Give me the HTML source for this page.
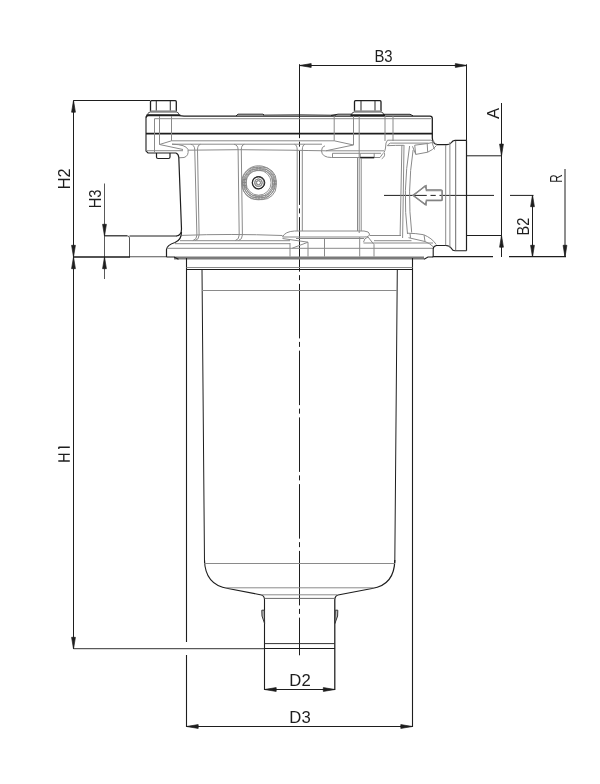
<!DOCTYPE html>
<html><head><meta charset="utf-8"><style>
html,body{margin:0;padding:0;background:#fff;}
svg{display:block;font-family:"Liberation Sans",sans-serif;will-change:transform;-webkit-font-smoothing:antialiased;}
text{fill:#1e1e1e;}
</style></head><body>
<svg width="600" height="784" viewBox="0 0 600 784">
<line x1="299.5" y1="65.5" x2="467" y2="65.5" stroke="#1e1e1e" stroke-width="1.0" />
<polygon points="299.5,65.5 311.2,63.6 311.2,67.4" fill="#1e1e1e" stroke="#1e1e1e" stroke-width="0.7" stroke-linejoin="round"/>
<polygon points="467,65.5 455.3,63.6 455.3,67.4" fill="#1e1e1e" stroke="#1e1e1e" stroke-width="0.7" stroke-linejoin="round"/>
<line x1="466.5" y1="64.3" x2="466.5" y2="140.5" stroke="#1e1e1e" stroke-width="1.0" />
<g transform="translate(383.5,56) rotate(0) scale(0.89,1)"><text x="0" y="6" font-size="16.7" text-anchor="middle">B3</text></g>
<line x1="299.5" y1="64.2" x2="299.5" y2="138.15" stroke="#1e1e1e" stroke-width="1.0" />
<line x1="299.5" y1="138.15" x2="299.5" y2="655.3" stroke="#1e1e1e" stroke-width="1.0" stroke-dasharray="54.5 3.5 5 3.75" stroke-dashoffset="54.5"/>
<line x1="73.5" y1="100.5" x2="73.5" y2="257" stroke="#1e1e1e" stroke-width="1.0" />
<polygon points="73.5,100.5 71.6,112.2 75.4,112.2" fill="#1e1e1e" stroke="#1e1e1e" stroke-width="0.7" stroke-linejoin="round"/>
<polygon points="73.5,257 71.6,245.3 75.4,245.3" fill="#1e1e1e" stroke="#1e1e1e" stroke-width="0.7" stroke-linejoin="round"/>
<line x1="73.5" y1="100.5" x2="150" y2="100.5" stroke="#1e1e1e" stroke-width="1.0" />
<g transform="translate(64,178.9) rotate(-90) scale(0.975,1)"><text x="0" y="6" font-size="16.7" text-anchor="middle">H2</text></g>
<line x1="104.5" y1="183.5" x2="104.5" y2="279" stroke="#5a5a5a" stroke-width="1.0" />
<polygon points="104.5,236 102.6,224.3 106.4,224.3" fill="#1e1e1e" stroke="#1e1e1e" stroke-width="0.7" stroke-linejoin="round"/>
<polygon points="104.5,257 102.6,268.7 106.4,268.7" fill="#1e1e1e" stroke="#1e1e1e" stroke-width="0.7" stroke-linejoin="round"/>
<g transform="translate(94.7,198.9) rotate(-90) scale(0.88,1)"><text x="0" y="6" font-size="16.7" text-anchor="middle">H3</text></g>
<line x1="104.5" y1="235.8" x2="127.5" y2="235.8" stroke="#1e1e1e" stroke-width="1.2" />
<path d="M127.5,236 Q129.5,236 129.5,238 L129.5,257" stroke="#555" stroke-width="1.0" fill="none" />
<line x1="129.5" y1="236" x2="177" y2="236" stroke="#1e1e1e" stroke-width="1.0" />
<line x1="73.5" y1="257" x2="73.5" y2="649" stroke="#1e1e1e" stroke-width="1.0" />
<polygon points="73.5,257 71.6,268.7 75.4,268.7" fill="#1e1e1e" stroke="#1e1e1e" stroke-width="0.7" stroke-linejoin="round"/>
<polygon points="73.5,649 71.6,637.3 75.4,637.3" fill="#1e1e1e" stroke="#1e1e1e" stroke-width="0.7" stroke-linejoin="round"/>
<path d="M58.3,454.3 L69.8,454.3 M58.3,461 L69.8,461 M63.8,454.3 L63.8,461 M58.6,447.2 L69.8,447.2 M58.6,447.2 L58.9,449" stroke="#1e1e1e" stroke-width="1.35" fill="none" />
<line x1="73.5" y1="648.7" x2="264.5" y2="648.7" stroke="#333" stroke-width="1.0" />
<line x1="73.5" y1="257" x2="130" y2="257" stroke="#1a1a1a" stroke-width="1.6" />
<line x1="130" y1="256.8" x2="166.5" y2="256.8" stroke="#555" stroke-width="1.1" />
<line x1="432.5" y1="256.6" x2="493" y2="256.6" stroke="#1e1e1e" stroke-width="1.2" />
<line x1="509" y1="256.6" x2="566" y2="256.6" stroke="#1e1e1e" stroke-width="1.2" />
<line x1="264.5" y1="689.5" x2="335" y2="689.5" stroke="#1e1e1e" stroke-width="1.0" />
<polygon points="264.5,689.5 276.2,687.6 276.2,691.4" fill="#1e1e1e" stroke="#1e1e1e" stroke-width="0.7" stroke-linejoin="round"/>
<polygon points="335,689.5 323.3,687.6 323.3,691.4" fill="#1e1e1e" stroke="#1e1e1e" stroke-width="0.7" stroke-linejoin="round"/>
<g transform="translate(300,680) rotate(0) scale(1.0,1)"><text x="0" y="6" font-size="16.7" text-anchor="middle">D2</text></g>
<line x1="186.5" y1="726.5" x2="412.5" y2="726.5" stroke="#1e1e1e" stroke-width="1.0" />
<polygon points="186.5,726.5 198.2,724.6 198.2,728.4" fill="#1e1e1e" stroke="#1e1e1e" stroke-width="0.7" stroke-linejoin="round"/>
<polygon points="412.5,726.5 400.8,724.6 400.8,728.4" fill="#1e1e1e" stroke="#1e1e1e" stroke-width="0.7" stroke-linejoin="round"/>
<g transform="translate(300,716.6) rotate(0) scale(1.0,1)"><text x="0" y="6" font-size="16.7" text-anchor="middle">D3</text></g>
<line x1="501.5" y1="103" x2="501.5" y2="257" stroke="#1e1e1e" stroke-width="1.0" />
<polygon points="501.5,155.8 499.6,144.10000000000002 503.4,144.10000000000002" fill="#1e1e1e" stroke="#1e1e1e" stroke-width="0.7" stroke-linejoin="round"/>
<polygon points="501.5,235.5 499.6,247.2 503.4,247.2" fill="#1e1e1e" stroke="#1e1e1e" stroke-width="0.7" stroke-linejoin="round"/>
<line x1="467" y1="155.8" x2="501.5" y2="155.8" stroke="#1e1e1e" stroke-width="1.0" />
<line x1="467" y1="235.5" x2="501.5" y2="235.5" stroke="#1e1e1e" stroke-width="1.0" />
<g transform="translate(492.7,113.5) rotate(-90) scale(1.0,1)"><text x="0" y="6" font-size="16.7" text-anchor="middle">A</text></g>
<line x1="532.5" y1="195" x2="532.5" y2="257" stroke="#1e1e1e" stroke-width="1.0" />
<polygon points="532.5,195 530.6,206.7 534.4,206.7" fill="#1e1e1e" stroke="#1e1e1e" stroke-width="0.7" stroke-linejoin="round"/>
<polygon points="532.5,257 530.6,245.3 534.4,245.3" fill="#1e1e1e" stroke="#1e1e1e" stroke-width="0.7" stroke-linejoin="round"/>
<line x1="510" y1="195.4" x2="533.5" y2="195.4" stroke="#1e1e1e" stroke-width="1.0" />
<g transform="translate(523.2,226.5) rotate(-90) scale(0.87,1)"><text x="0" y="6" font-size="16.7" text-anchor="middle">B2</text></g>
<line x1="565" y1="169" x2="565" y2="257" stroke="#1e1e1e" stroke-width="1.0" />
<polygon points="565,257 563.1,245.3 566.9,245.3" fill="#1e1e1e" stroke="#1e1e1e" stroke-width="0.7" stroke-linejoin="round"/>
<g transform="translate(555.7,178.5) rotate(-90) scale(0.7,1)"><text x="0" y="6" font-size="16.7" text-anchor="middle">R</text></g>
<line x1="384" y1="195.4" x2="494" y2="195.4" stroke="#1e1e1e" stroke-width="1.0" stroke-dasharray="54.5 3.75 5.25 3.75" stroke-dashoffset="11.75"/>
<path d="M150.5,111.5 L150.5,101.7 Q150.5,100.7 151.5,100.7 L175.3,100.7 Q176.3,100.7 176.3,101.7 L176.3,111.5" stroke="#1e1e1e" stroke-width="1.3" fill="none" />
<line x1="156.3" y1="101" x2="156.3" y2="111" stroke="#3a3a3a" stroke-width="1.1" />
<line x1="170.3" y1="101" x2="170.3" y2="111" stroke="#3a3a3a" stroke-width="1.1" />
<line x1="150.5" y1="111" x2="176.3" y2="111" stroke="#999" stroke-width="1.4" />
<path d="M147.7,114.5 Q147.7,112.2 150.5,112 L176.3,112 Q178.8,112.2 178.8,114.5" stroke="#555" stroke-width="1.0" fill="none" />
<line x1="146.5" y1="115.2" x2="180.3" y2="115.2" stroke="#1e1e1e" stroke-width="1.7" />
<path d="M354.5,111.5 L354.5,101.7 Q354.5,100.7 355.5,100.7 L380,100.7 Q381,100.7 381,101.7 L381,111.5" stroke="#1e1e1e" stroke-width="1.3" fill="none" />
<line x1="361" y1="101" x2="361" y2="111" stroke="#3a3a3a" stroke-width="1.1" />
<line x1="375" y1="101" x2="375" y2="111" stroke="#3a3a3a" stroke-width="1.1" />
<line x1="354.5" y1="111" x2="381" y2="111" stroke="#999" stroke-width="1.4" />
<path d="M351.7,114.5 Q351.7,112.2 354.5,112 L381,112 Q383.5,112.2 383.5,114.5" stroke="#555" stroke-width="1.0" fill="none" />
<line x1="350.5" y1="115.2" x2="385" y2="115.2" stroke="#1e1e1e" stroke-width="1.7" />
<path d="M146,118 Q146,115.5 148.5,115.5 L179,115.7 L184,116.1 L430,116.1 Q432.3,116.1 432.3,118.5 L432.3,138 Q432.5,143.5 437,144.7 L447,144.7 Q450,144.7 451.5,142.5 Q452.5,140.3 455,140.3 L466.5,140.3" stroke="#1e1e1e" stroke-width="1.3" fill="none" />
<path d="M236,116 L238,114.2 L263,114.2 L264,115" stroke="#1e1e1e" stroke-width="1.0" fill="none" />
<path d="M263,115 Q300,114.2 336,115.2" stroke="#1e1e1e" stroke-width="0.7" fill="none" />
<path d="M331,115.5 L338,114.2 L352,114.2" stroke="#1e1e1e" stroke-width="1.0" fill="none" />
<path d="M383,114.3 L410,114.3 L413,115.8" stroke="#1e1e1e" stroke-width="1.0" fill="none" />
<path d="M146,118 L146,151 L148,153 L176,153" stroke="#1e1e1e" stroke-width="1.1" fill="none" />
<line x1="146" y1="133.6" x2="432.3" y2="133.6" stroke="#1e1e1e" stroke-width="1.6" />
<line x1="154.5" y1="118.7" x2="431" y2="118.7" stroke="#8a8a8a" stroke-width="1.0" />
<line x1="154.5" y1="118.7" x2="154.5" y2="152.5" stroke="#8a8a8a" stroke-width="1.0" />
<line x1="159.5" y1="116" x2="159.5" y2="144.5" stroke="#8a8a8a" stroke-width="1.0" />
<line x1="171.5" y1="116" x2="171.5" y2="140.8" stroke="#8a8a8a" stroke-width="1.0" />
<line x1="334.2" y1="116" x2="334.2" y2="140.8" stroke="#8a8a8a" stroke-width="1.0" />
<line x1="353.5" y1="116" x2="353.5" y2="145" stroke="#8a8a8a" stroke-width="1.0" />
<line x1="359.2" y1="116" x2="359.2" y2="233" stroke="#8a8a8a" stroke-width="1.0" />
<line x1="385" y1="116" x2="385" y2="141" stroke="#8a8a8a" stroke-width="1.0" />
<line x1="393" y1="116" x2="393" y2="141" stroke="#8a8a8a" stroke-width="1.0" />
<line x1="171.5" y1="140.8" x2="334.2" y2="140.8" stroke="#8a8a8a" stroke-width="1.0" />
<line x1="334.2" y1="140.8" x2="353.5" y2="145" stroke="#8a8a8a" stroke-width="1.0" />
<path d="M159.5,144.5 L171.5,140.8" stroke="#8a8a8a" stroke-width="1.0" fill="none" />
<path d="M159.5,144.5 L183,149.5" stroke="#8a8a8a" stroke-width="1.0" fill="none" />
<path d="M146,150.7 L183,150.7" stroke="#8a8a8a" stroke-width="1.0" fill="none" />
<line x1="172" y1="144.2" x2="322" y2="144.2" stroke="#8a8a8a" stroke-width="1.0" />
<path d="M188,150.2 Q240,149.2 290,150.2 Q310,150.6 325.8,150.8" stroke="#8a8a8a" stroke-width="1.0" fill="none" />
<path d="M172,144.2 Q186,144.5 188,149.5 Q189,156 184,157.5 L179,157.8" stroke="#8a8a8a" stroke-width="1.0" fill="none" />
<path d="M325,145.8 Q321.5,146.5 321.5,151 Q322,157.5 331.7,157.5 L360,157.5" stroke="#8a8a8a" stroke-width="1.0" fill="none" />
<path d="M325.8,150.8 L353.3,145" stroke="#8a8a8a" stroke-width="1.0" fill="none" />
<line x1="325.8" y1="150.8" x2="384" y2="150.8" stroke="#8a8a8a" stroke-width="1.0" />
<line x1="332.5" y1="153.3" x2="360" y2="153.3" stroke="#8a8a8a" stroke-width="1.0" />
<line x1="332.5" y1="153.3" x2="332.5" y2="157.5" stroke="#8a8a8a" stroke-width="1.0" />
<line x1="374" y1="153.3" x2="381" y2="153.3" stroke="#8a8a8a" stroke-width="1.0" />
<path d="M374,157.5 L380,157.5 L383,153.3" stroke="#8a8a8a" stroke-width="1.0" fill="none" />
<path d="M381.7,158.8 Q386,156 384,152.4" stroke="#8a8a8a" stroke-width="1.0" fill="none" />
<line x1="387.5" y1="140.2" x2="430.7" y2="140.2" stroke="#8a8a8a" stroke-width="1.0" />
<path d="M430.7,140.2 Q434,141 436.5,144.8" stroke="#8a8a8a" stroke-width="1.0" fill="none" />
<path d="M387.5,140.2 Q385.5,142 385.5,148 Q385,151 384,152.4" stroke="#8a8a8a" stroke-width="1.0" fill="none" />
<line x1="390.4" y1="143.1" x2="428.3" y2="143.1" stroke="#8a8a8a" stroke-width="1.0" />
<path d="M390.4,143.1 Q388,144 387.5,146" stroke="#8a8a8a" stroke-width="1.0" fill="none" />
<path d="M387.6,145.7 Q395,145.3 403.8,145.3" stroke="#8a8a8a" stroke-width="1.0" fill="none" />
<path d="M412.5,146.3 L415.75,154.4 L427.7,152.2 Q433,150 436.5,145.5" stroke="#8a8a8a" stroke-width="1.0" fill="none" />
<path d="M414.7,145.2 L427.7,143.5 Q432,142.5 434.5,142" stroke="#8a8a8a" stroke-width="1.0" fill="none" />
<line x1="414.7" y1="145.2" x2="415.75" y2="154.4" stroke="#8a8a8a" stroke-width="1.0" />
<line x1="427.2" y1="143.5" x2="427.7" y2="152.2" stroke="#8a8a8a" stroke-width="1.0" />
<line x1="432" y1="142.5" x2="434.5" y2="149.5" stroke="#8a8a8a" stroke-width="1.0" />
<path d="M156.5,153 L156.5,157 Q156.5,158.5 158,158.5 L168.5,158.5 Q170,158.5 170,157 L170,153" stroke="#1e1e1e" stroke-width="1.2" fill="none" />
<path d="M360.2,153.3 L360.2,157.5 L374.2,157.5 L374.2,153.3" stroke="#8a8a8a" stroke-width="1.0" fill="none" />
<line x1="360.2" y1="157.6" x2="374.2" y2="157.6" stroke="#1e1e1e" stroke-width="1.6" />
<line x1="360.2" y1="153.3" x2="374.2" y2="153.3" stroke="#8a8a8a" stroke-width="1.0" />
<path d="M176,153 Q178.5,154 178.8,157.5 L181.5,229 Q181.5,235.5 176.5,236" stroke="#1e1e1e" stroke-width="1.2" fill="none" />
<path d="M181.5,232 Q181.5,240 175,242.5 Q167,245 166.5,249.5 L166.5,257" stroke="#1e1e1e" stroke-width="1.2" fill="none" />
<path d="M190.75,144.3 Q194.75,145 194.75,150 L196.9,235 Q196.9,239.5 192.9,240.6" stroke="#8a8a8a" stroke-width="1.0" fill="none" />
<path d="M200.5,144.3 Q197.5,145 197.5,150 L199.1,235 Q199.1,239.5 195.1,240.6" stroke="#8a8a8a" stroke-width="1.0" fill="none" />
<path d="M234.1,144.3 Q238.1,145 238.1,150 L239.2,235 Q239.2,239.5 235.2,240.6" stroke="#8a8a8a" stroke-width="1.0" fill="none" />
<path d="M244.3,144.3 Q241.3,145 241.3,150 L242.4,235 Q242.4,239.5 238.4,240.6" stroke="#8a8a8a" stroke-width="1.0" fill="none" />
<line x1="357.5" y1="158" x2="357.5" y2="231" stroke="#8a8a8a" stroke-width="1.0" />
<line x1="361.2" y1="158" x2="361.2" y2="231" stroke="#8a8a8a" stroke-width="1.0" />
<path d="M294.5,144.3 Q297.2,145 297.2,150 L297.2,231" stroke="#8a8a8a" stroke-width="1.0" fill="none" />
<path d="M305,144.3 Q302.3,145 302.3,150 L302.3,231" stroke="#8a8a8a" stroke-width="1.0" fill="none" />
<line x1="401.9" y1="145" x2="400.1" y2="236" stroke="#8a8a8a" stroke-width="1.0" />
<line x1="404" y1="145" x2="402.6" y2="238" stroke="#8a8a8a" stroke-width="1.0" />
<path d="M409.6,146 Q402.25,191 407.5,234" stroke="#8a8a8a" stroke-width="1.0" fill="none" />
<path d="M413.1,150 Q406.8,191 411.7,232.6" stroke="#8a8a8a" stroke-width="1.0" fill="none" />
<path d="M182,235.4 Q230,233.5 282.5,235.5" stroke="#8a8a8a" stroke-width="1.0" fill="none" />
<path d="M294.5,231 Q285,231.5 282.5,237" stroke="#8a8a8a" stroke-width="1.0" fill="none" />
<line x1="294.5" y1="231" x2="364" y2="231" stroke="#8a8a8a" stroke-width="1.0" />
<path d="M364,231 Q369.5,231.5 369.5,234 Q369.5,237 364,237" stroke="#8a8a8a" stroke-width="1.0" fill="none" />
<line x1="282.5" y1="237" x2="364" y2="237" stroke="#8a8a8a" stroke-width="1.1" />
<line x1="296" y1="238.5" x2="364" y2="238.5" stroke="#8a8a8a" stroke-width="1.0" />
<line x1="180" y1="240.7" x2="290" y2="240.7" stroke="#8a8a8a" stroke-width="1.0" />
<line x1="175" y1="243.7" x2="290" y2="243.7" stroke="#8a8a8a" stroke-width="1.0" />
<line x1="167" y1="248.3" x2="433" y2="248.3" stroke="#8a8a8a" stroke-width="1.0" />
<path d="M282.5,238.5 L308,242.2 L292.2,248.2" stroke="#8a8a8a" stroke-width="1.0" fill="none" />
<line x1="290" y1="243" x2="290" y2="256.5" stroke="#8a8a8a" stroke-width="1.0" />
<line x1="308" y1="242.2" x2="308" y2="256.5" stroke="#8a8a8a" stroke-width="1.0" />
<line x1="324.5" y1="238.5" x2="324.5" y2="256.5" stroke="#8a8a8a" stroke-width="1.0" />
<line x1="359.7" y1="237" x2="359.7" y2="256.5" stroke="#8a8a8a" stroke-width="1.0" />
<line x1="374" y1="244.5" x2="374" y2="256.5" stroke="#8a8a8a" stroke-width="1.0" />
<path d="M363.5,242.2 Q364,238 368,237 L374,244.5" stroke="#8a8a8a" stroke-width="1.0" fill="none" />
<line x1="369.5" y1="235.5" x2="401" y2="235.5" stroke="#8a8a8a" stroke-width="1.0" />
<line x1="374" y1="240.7" x2="411.5" y2="240.7" stroke="#8a8a8a" stroke-width="1.0" />
<line x1="363.5" y1="243" x2="433" y2="243" stroke="#8a8a8a" stroke-width="1.0" />
<path d="M407.7,233.2 Q416,233.3 423.5,234.7 Q432,238 436.2,244.5" stroke="#8a8a8a" stroke-width="1.0" fill="none" />
<path d="M408.5,237.7 L425,241.5 Q430,243.5 433.2,246.7" stroke="#8a8a8a" stroke-width="1.0" fill="none" />
<line x1="410" y1="233.3" x2="410.5" y2="237.9" stroke="#8a8a8a" stroke-width="1.0" />
<line x1="424" y1="234.8" x2="425" y2="241.5" stroke="#8a8a8a" stroke-width="1.0" />
<path d="M433.2,256.6 L433.2,249 Q433.3,246 436.5,245.5 L446,245.5 Q450,245.8 451.5,248.5 Q452.5,250.7 455,250.7 L466.5,250.7" stroke="#1e1e1e" stroke-width="1.1" fill="none" />
<line x1="455.7" y1="140.8" x2="455.7" y2="250.2" stroke="#6a6a6a" stroke-width="1.0" />
<line x1="466.5" y1="140.3" x2="466.5" y2="250.7" stroke="#1e1e1e" stroke-width="1.2" />
<line x1="445.7" y1="145" x2="445.7" y2="245.3" stroke="#8a8a8a" stroke-width="1.0" />
<line x1="449.9" y1="142" x2="449.9" y2="248" stroke="#8a8a8a" stroke-width="1.0" />
<rect x="174" y="256.5" width="250" height="3" fill="#7a7a7a"/>
<path d="M166.5,257 L174,257 L178.5,259.3" stroke="#1e1e1e" stroke-width="1.1" fill="none" />
<path d="M424,259.3 L428,257 L433.2,257" stroke="#1e1e1e" stroke-width="1.1" fill="none" />
<rect x="242.5" y="167" width="33.8" height="32.6" rx="14" fill="none" stroke="#777" stroke-width="0.85"/>
<rect x="244.3" y="168.8" width="30.199999999999996" height="29.0" rx="12.2" fill="none" stroke="#777" stroke-width="0.85"/>
<rect x="246.1" y="170.6" width="26.599999999999998" height="25.400000000000002" rx="10.4" fill="none" stroke="#777" stroke-width="0.85"/>
<circle cx="258.3" cy="182.8" r="6.0" fill="none" stroke="#555" stroke-width="1.3"/>
<circle cx="258.3" cy="182.8" r="3.8" fill="none" stroke="#777" stroke-width="0.85"/>
<circle cx="258.3" cy="182.8" r="2.2" fill="none" stroke="#777" stroke-width="0.85"/>
<line x1="257" y1="167" x2="257" y2="171" stroke="#777" stroke-width="0.85" />
<line x1="260" y1="167" x2="260" y2="171" stroke="#777" stroke-width="0.85" />
<line x1="242.5" y1="179.5" x2="246.5" y2="179.5" stroke="#777" stroke-width="0.85" />
<line x1="242.5" y1="182.5" x2="246.5" y2="182.5" stroke="#777" stroke-width="0.85" />
<line x1="242.5" y1="185.5" x2="246.5" y2="185.5" stroke="#777" stroke-width="0.85" />
<line x1="272.5" y1="181" x2="276.5" y2="181" stroke="#777" stroke-width="0.85" />
<line x1="272.5" y1="184" x2="276.5" y2="184" stroke="#777" stroke-width="0.85" />
<line x1="256" y1="195.5" x2="256" y2="199.5" stroke="#777" stroke-width="0.85" />
<line x1="259" y1="195.5" x2="259" y2="199.5" stroke="#777" stroke-width="0.85" />
<line x1="262" y1="195.5" x2="262" y2="199.5" stroke="#777" stroke-width="0.85" />
<path d="M413.3,195.4 L425.3,185.8 L426.4,189.8 L441,189.8 Q442.1,189.8 442.1,191 L442.1,199.4 Q442.1,200.6 441,200.6 L426.4,200.6 L425.3,204.8 Z" stroke="#7a7a7a" stroke-width="1.3" fill="none" stroke-linejoin="round"/>
<line x1="186.5" y1="258" x2="186.5" y2="642" stroke="#1e1e1e" stroke-width="1.1" />
<line x1="186.5" y1="655" x2="186.5" y2="727" stroke="#1e1e1e" stroke-width="1.1" />
<line x1="412.5" y1="258" x2="412.5" y2="727" stroke="#1e1e1e" stroke-width="1.1" />
<line x1="186.5" y1="267.5" x2="412.5" y2="267.5" stroke="#8a8a8a" stroke-width="1.0" />
<line x1="186.5" y1="269.5" x2="412.5" y2="269.5" stroke="#1e1e1e" stroke-width="1.1" />
<line x1="202" y1="269.5" x2="204.5" y2="563" stroke="#1e1e1e" stroke-width="1.0" />
<line x1="397.3" y1="269.5" x2="394.8" y2="563" stroke="#1e1e1e" stroke-width="1.0" />
<line x1="202" y1="290.5" x2="397" y2="290.5" stroke="#8a8a8a" stroke-width="1.0" />
<path d="M204.5,560 Q205,585 228,588.5 L261.5,595 Q264.5,596 264.5,600 L264.5,690" stroke="#1e1e1e" stroke-width="1.1" fill="none" />
<path d="M394.8,560 Q394.5,585 372,588.5 L338,595 Q334.8,596 334.8,600 L334.8,690" stroke="#1e1e1e" stroke-width="1.25" fill="none" />
<line x1="204.5" y1="563.5" x2="394.8" y2="563.5" stroke="#8a8a8a" stroke-width="1.0" />
<line x1="226" y1="587.8" x2="373.6" y2="587.8" stroke="#8a8a8a" stroke-width="1.0" />
<line x1="262" y1="594.8" x2="337" y2="594.8" stroke="#8a8a8a" stroke-width="1.0" />
<line x1="264.5" y1="598.4" x2="335" y2="598.4" stroke="#6a6a6a" stroke-width="1.0" />
<line x1="264.5" y1="643.6" x2="334.8" y2="643.6" stroke="#333" stroke-width="1.0" />
<line x1="264.5" y1="648.5" x2="335" y2="648.5" stroke="#1e1e1e" stroke-width="1.2" />
<path d="M261.8,610.2 L264.3,610.2 L264.6,623.5 L262,616 Z" stroke="#333" stroke-width="1.0" fill="#bbb" />
<path d="M337.8,610.2 L335.3,610.2 L334.9,623.5 L337.6,616 Z" stroke="#333" stroke-width="1.0" fill="#bbb" />
<circle cx="258.6" cy="182.7" r="17" fill="none" stroke="#8a8a8a" stroke-width="0.9"/>
<circle cx="258.6" cy="182.7" r="15.5" fill="none" stroke="#8a8a8a" stroke-width="0.9"/>
<circle cx="258.6" cy="182.7" r="14" fill="none" stroke="#8a8a8a" stroke-width="0.9"/>
<circle cx="258.6" cy="182.7" r="12.5" fill="none" stroke="#8a8a8a" stroke-width="0.9"/>
<circle cx="258.6" cy="182.7" r="6.2" fill="none" stroke="#1e1e1e" stroke-width="0.9"/>
<circle cx="258.6" cy="182.7" r="3.8" fill="none" stroke="#8a8a8a" stroke-width="0.9"/>
<circle cx="258.6" cy="182.7" r="2" fill="none" stroke="#8a8a8a" stroke-width="0.9"/>
<path d="M412.8,195.3 L426.3,185.5 L426.3,190.7 L442.2,190.7 L442.2,200 L426.3,200 L426.3,205 Z" stroke="#8a8a8a" stroke-width="1.1" fill="none" />
</svg>
</body></html>
